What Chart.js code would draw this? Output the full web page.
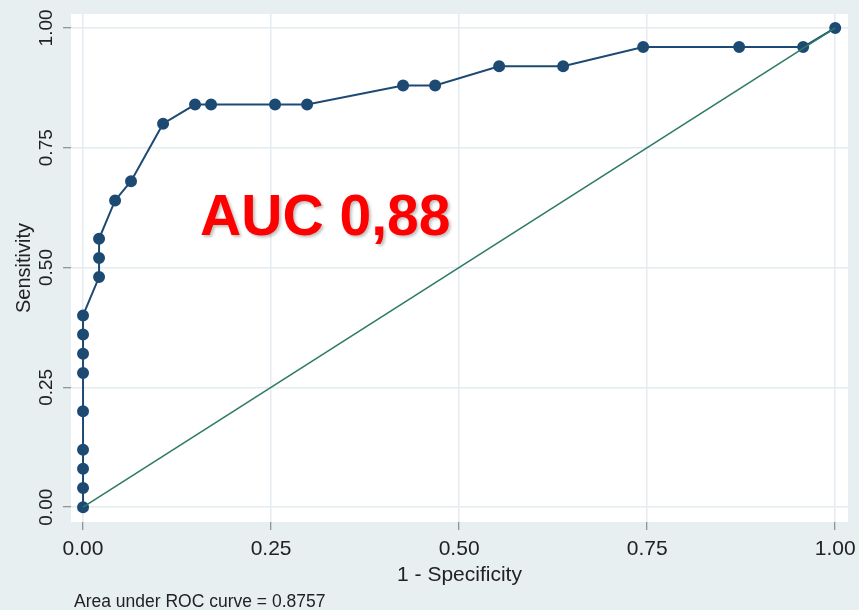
<!DOCTYPE html>
<html>
<head>
<meta charset="utf-8">
<script src="https://cdn.jsdelivr.net/npm/chart.js@4.4.0/dist/chart.umd.min.js"></script>
<style>
  html, body { margin: 0; padding: 0; background: #e8eff1; }
  canvas { display: block; }
</style>
</head>
<body>
<canvas id="roc" width="859" height="610"></canvas>
<script>
// ROC points (1 - specificity, sensitivity)
const oneMinusSpec = [0, 0, 0, 0, 0, 0, 0, 0, 0, 0.0213, 0.0213, 0.0213, 0.0426, 0.0638, 0.1064, 0.1489, 0.1702, 0.2553, 0.2979, 0.4255, 0.4681, 0.5532, 0.6383, 0.7447, 0.8723, 0.9574, 1];
const sensitivity  = [0, 0.04, 0.08, 0.12, 0.20, 0.28, 0.32, 0.36, 0.40, 0.48, 0.52, 0.56, 0.64, 0.68, 0.80, 0.84, 0.84, 0.84, 0.84, 0.88, 0.88, 0.92, 0.92, 0.96, 0.96, 0.96, 1];
const refX = [0, 1];
const refY = [0, 1];
const tickValues = [0, 0.25, 0.5, 0.75, 1];
const aucLabel = 'AUC 0,88';
const aucAt = [0.322, 0.568];
const footnote = 'Area under ROC curve = 0.8757';

const pts = (xs, ys) => xs.map((v, i) => ({ x: v, y: ys[i] }));
const fontFam = '"Liberation Sans", Arial, sans-serif';

const backdrop = {
  id: 'backdrop',
  beforeDraw(chart) {
    const { ctx, chartArea: a } = chart;
    ctx.save();
    ctx.fillStyle = '#e8eff1';
    ctx.fillRect(0, 0, chart.width, chart.height);
    ctx.fillStyle = '#ffffff';
    ctx.fillRect(a.left, a.top, a.right - a.left, a.bottom - a.top);
    ctx.restore();
  }
};

const notes = {
  id: 'notes',
  afterDraw(chart) {
    const { ctx, scales: { x, y }, chartArea } = chart;
    ctx.save();
    ctx.font = 'bold 57px ' + fontFam;
    ctx.fillStyle = '#ff0000';
    ctx.textAlign = 'center';
    ctx.textBaseline = 'alphabetic';
    ctx.shadowColor = 'rgba(0,0,0,0.25)';
    ctx.shadowOffsetX = 2;
    ctx.shadowOffsetY = 2;
    ctx.shadowBlur = 3;
    ctx.fillText(aucLabel, x.getPixelForValue(aucAt[0]), y.getPixelForValue(aucAt[1]));
    ctx.restore();

    ctx.save();
    ctx.font = '17.5px ' + fontFam;
    ctx.fillStyle = '#222';
    ctx.textAlign = 'left';
    ctx.textBaseline = 'alphabetic';
    ctx.fillText(footnote, chartArea.left + 3, 607);
    ctx.restore();
  }
};

const gridOpts = {
  color: '#e3ecef',
  lineWidth: 1.5,
  drawTicks: true,
  tickLength: 8,
  tickColor: '#777',
  tickWidth: 1
};

new Chart(document.getElementById('roc'), {
  type: 'scatter',
  data: {
    datasets: [
      {
        data: pts(refX, refY),
        showLine: true,
        borderColor: '#2f7a66',
        borderWidth: 1.6,
        pointRadius: 0
      },
      {
        data: pts(oneMinusSpec, sensitivity),
        showLine: true,
        borderColor: '#1d4a72',
        borderWidth: 2,
        pointRadius: 5,
        pointBackgroundColor: '#1d4a72',
        pointBorderColor: '#1d4a72'
      }
    ]
  },
  options: {
    responsive: false,
    animation: false,
    layout: { padding: { left: 0, right: 11, top: 14, bottom: 0 } },
    plugins: { legend: { display: false }, tooltip: { enabled: false } },
    scales: {
      x: {
        type: 'linear',
        min: -0.016,
        max: 1.017,
        afterBuildTicks: s => { s.ticks = tickValues.map(v => ({ value: v })); },
        afterFit: s => { s.height = 88; s.paddingLeft = 0; s.paddingRight = 0; },
        border: { display: false },
        grid: gridOpts,
        ticks: {
          color: '#222',
          font: { family: fontFam, size: 21 },
          padding: 7,
          maxRotation: 0,
          callback: v => Number(v).toFixed(2)
        },
        title: {
          display: true,
          text: '1 - Specificity',
          color: '#222',
          font: { family: fontFam, size: 21 },
          padding: { top: 0, bottom: 22 }
        }
      },
      y: {
        type: 'linear',
        min: -0.031,
        max: 1.029,
        afterBuildTicks: s => { s.ticks = tickValues.map(v => ({ value: v })); },
        afterFit: s => { s.width = 71; s.paddingTop = 0; s.paddingBottom = 0; },
        border: { display: false },
        grid: gridOpts,
        ticks: {
          color: '#222',
          font: { family: fontFam, size: 19 },
          minRotation: 90,
          maxRotation: 90,
          crossAlign: 'center',
          padding: -2,
          callback: v => Number(v).toFixed(2)
        },
        title: {
          display: true,
          text: 'Sensitivity',
          color: '#222',
          font: { family: fontFam, size: 20 },
          padding: { top: 12, bottom: 0 }
        }
      }
    }
  },
  plugins: [backdrop, notes]
});
</script>
</body>
</html>
